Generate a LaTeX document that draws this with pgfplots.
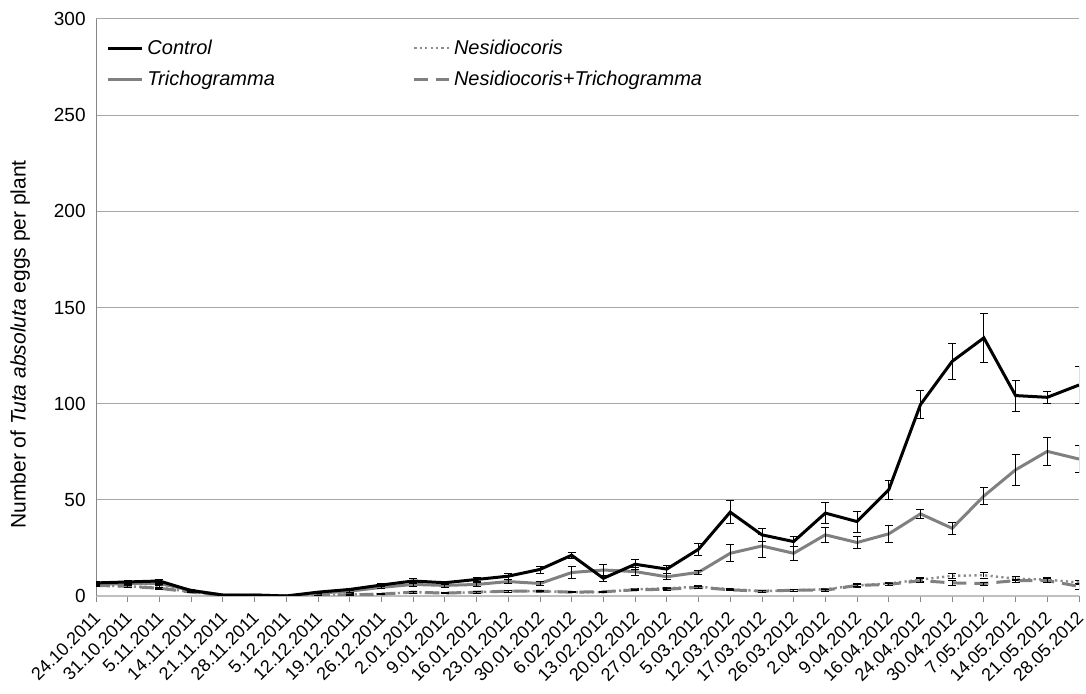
\documentclass[border=0pt]{standalone}
\usepackage{fontspec}
\setmainfont{Liberation Sans}
\usepackage{pgfplots}
\usepackage{pgfplotstable}
\pgfplotsset{compat=1.18}

\definecolor{ctrlc}{RGB}{0,0,0}
\definecolor{tric}{RGB}{128,128,128}
\definecolor{nesc}{RGB}{140,140,140}
\definecolor{gridc}{RGB}{166,166,166}
\definecolor{axisc}{RGB}{134,134,134}
\definecolor{baseC}{RGB}{191,191,191}

% i  control  err  tricho  err  nesid  err  nes+tri  err
\pgfplotstableread{
i  ctrl  ce   tri  te   nes  ne   nt   nte
0  6.8   1.0  6.0  0.6  5.5  0.5  5.5  0.5
1  7.3   0.8  6.5  0.5  5.0  0.5  5.0  0.4
2  7.8   1.0  6.5  0.6  4.5  0.8  4.0  0.6
3  2.8   0.5  3.0  0.4  2.0  0.3  2.0  0.3
4  0.5   0.3  0.5  0.2  0.3  0.1  0.3  0.1
5  0.5   0.3  0.5  0.2  0.3  0.1  0.3  0.1
6  0.0   0.0  0.0  0.0  0.0  0.0  0.0  0.0
7  2.0   0.4  1.5  0.3  0.5  0.2  0.5  0.2
8  3.4   0.5  2.5  0.4  0.8  0.3  0.6  0.2
9  5.7   0.6  4.5  0.5  1.0  0.3  1.0  0.3
10 7.8   1.5  6.0  1.0  2.0  0.4  2.0  0.4
11 6.9   0.8  5.5  0.8  1.5  0.3  1.5  0.3
12 8.6   1.2  6.0  1.0  2.0  0.4  2.0  0.4
13 10.3  1.5  7.5  1.0  2.5  0.4  2.5  0.4
14 13.8  1.8  6.5  1.0  2.5  0.4  2.5  0.3
15 21.2  1.5  12.2 3.0  2.0  0.3  2.0  0.3
16 9.2   1.5  13.5 2.8  2.0  0.3  2.2  0.3
17 16.5  2.5  12.7 2.0  3.5  0.4  3.2  0.4
18 14.0  2.0  10.0 1.5  4.0  0.5  3.5  0.5
19 24.3  3.0  12.3 1.0  4.8  0.5  4.5  0.5
20 43.6  6.0  22.2 4.4  3.5  0.5  3.2  0.4
21 31.8  3.5  26.0 5.8  2.5  0.4  2.5  0.4
22 28.3  2.5  22.2 3.6  3.0  0.5  3.0  0.5
23 43.1  5.4  31.8 4.0  3.5  0.5  3.0  0.5
24 38.7  5.5  27.8 3.0  5.5  0.8  5.5  0.6
25 55.2  5.0  32.3 4.5  6.5  0.8  6.0  0.7
26 99.5  7.3  42.7 2.4  8.5  1.0  8.0  1.0
27 122.0 9.2  35.2 3.2  10.5 1.5  6.8  1.5
28 134.2 12.8 52.0 4.3  10.8 1.5  6.5  0.8
29 104.2 8.0  65.6 8.0  9.0  1.0  8.0  0.8
30 103.3 3.3  75.2 7.3  8.5  1.0  8.0  1.0
31 109.7 9.5  71.2 7.0  7.0  1.0  5.0  1.5
}\eggs

\begin{document}
\fontsize{9.5}{11}\selectfont
\begin{tikzpicture}
\pgfplotsset{
    ebars/.style={error bars/.cd, y dir=both, y explicit,
        error bar style={black, line width=0.4pt},
        error mark options={rotate=90, black, line width=0.4pt, mark size=2pt}},
}
\begin{axis}[
    scale only axis,
    width=491.5pt, height=288.5pt,
    at={(0,0)}, anchor=south west,
    xmin=0, xmax=31, ymin=0, ymax=300,
    axis x line*=bottom, axis y line*=left,
    x axis line style={draw=baseC, line width=1pt, -},
    y axis line style={draw=axisc, line width=0.5pt, -},
    xtick={0,...,31},
    xticklabels={24.10.2011,31.10.2011,5.11.2011,14.11.2011,21.11.2011,28.11.2011,5.12.2011,12.12.2011,19.12.2011,26.12.2011,2.01.2012,9.01.2012,16.01.2012,23.01.2012,30.01.2012,6.02.2012,13.02.2012,20.02.2012,27.02.2012,5.03.2012,12.03.2012,17.03.2012,26.03.2012,2.04.2012,9.04.2012,16.04.2012,24.04.2012,30.04.2012,7.05.2012,14.05.2012,21.05.2012,28.05.2012},
    xticklabel style={rotate=45, anchor=north east, inner sep=1pt,
        xshift=-3pt, yshift=-0.5pt, font=\fontsize{9}{11}\selectfont},
    ytick={0,50,...,300},
    ymajorgrids,
    grid style={draw=gridc, line width=0.5pt},
    tick align=outside,
    xtick style={draw=axisc, line width=0.4pt},
    ytick style={draw=none},
    major tick length=3pt,
    /pgf/number format/assume math mode=true,
    yticklabel style={inner sep=1pt, xshift=-1pt},
    ylabel={Number of \textit{Tuta absoluta} eggs per plant},
    ylabel style={at={(axis description cs:-0.077,0.436)}, anchor=center,
        font=\fontsize{10.5}{12}\selectfont},
    legend columns=2,
    legend style={at={(axis description cs:0.004,0.979)}, anchor=north west,
        draw=none, fill=none, font=\fontsize{10}{12}\selectfont\itshape, row sep=3pt,
        /tikz/every even column/.append style={column sep=67pt}},
    legend cell align=left,
]
\addlegendimage{ctrlc, line width=1.5pt}
\addlegendentry{Control}
\addlegendimage{nesc, line width=1.2pt, dash pattern=on 1.1pt off 1.6pt}
\addlegendentry{Nesidiocoris}
\addlegendimage{tric, line width=1.5pt}
\addlegendentry{Trichogramma}
\addlegendimage{tric, line width=1.5pt, dash pattern=on 7pt off 4pt}
\addlegendentry{Nesidiocoris+Trichogramma}

\addplot[forget plot, nesc, line width=1.2pt, dash pattern=on 1.1pt off 1.6pt, no marks, ebars]
    table[x=i, y=nes, y error=ne] {\eggs};
\addplot[forget plot, tric, line width=1.5pt, dash pattern=on 7pt off 4pt, no marks, ebars]
    table[x=i, y=nt, y error=nte] {\eggs};
\addplot[forget plot, tric, line width=1.5pt, no marks, ebars]
    table[x=i, y=tri, y error=te] {\eggs};
\addplot[forget plot, ctrlc, line width=1.5pt, no marks, ebars]
    table[x=i, y=ctrl, y error=ce] {\eggs};
\end{axis}
\pgfresetboundingbox
\path (-48pt,-49pt) rectangle (495pt,298pt);
\end{tikzpicture}
\end{document}
